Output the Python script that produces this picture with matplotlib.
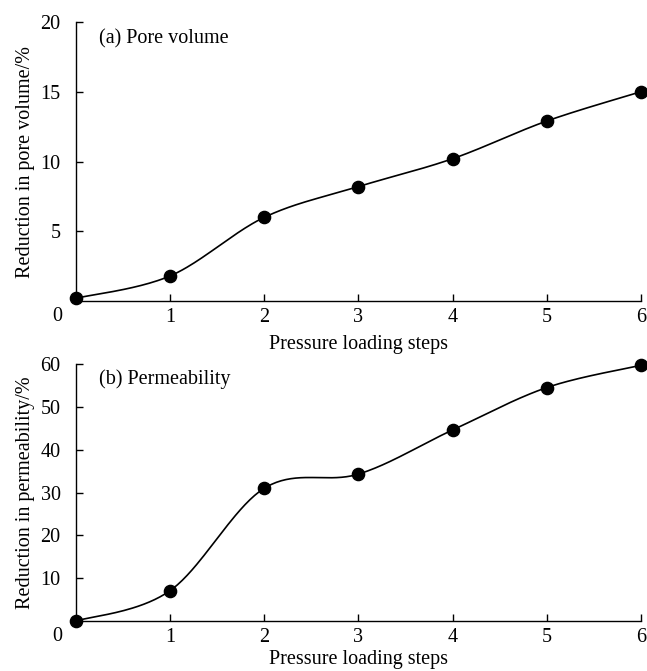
import numpy as np
import matplotlib
matplotlib.use("Agg")
import matplotlib.pyplot as plt

plt.rcParams['font.family'] = ['Liberation Serif', 'DejaVu Serif']
plt.rcParams['mathtext.fontset'] = 'stix'

steps = [0, 1, 2, 3, 4, 5, 6]
pore_volume = [0.2, 1.8, 6.0, 8.2, 10.2, 12.9, 15.0]
permeability = [0.0, 7.1, 31.0, 34.3, 44.6, 54.5, 59.7]

x_ticks = [1, 2, 3, 4, 5, 6]
pore_ticks = [5, 10, 15, 20]
perm_ticks = [10, 20, 30, 40, 50, 60]


def smooth_curve(x, y, n=40):
    """Catmull-Rom style Bezier smoothing through every point."""
    x = np.asarray(x, float)
    y = np.asarray(y, float)
    px = np.concatenate([[x[0]], x, [x[-1]]])
    py = np.concatenate([[y[0]], y, [y[-1]]])
    xs, ys = [], []
    t = np.linspace(0, 1, n)
    for i in range(1, len(px) - 2):
        p0 = np.array([px[i - 1], py[i - 1]])
        p1 = np.array([px[i], py[i]])
        p2 = np.array([px[i + 1], py[i + 1]])
        p3 = np.array([px[i + 2], py[i + 2]])
        c1 = p1 + (p2 - p0) / 6.0
        c2 = p2 - (p3 - p1) / 6.0
        b = ((1 - t) ** 3)[:, None] * p1 + (3 * (1 - t) ** 2 * t)[:, None] * c1 \
            + (3 * (1 - t) * t ** 2)[:, None] * c2 + (t ** 3)[:, None] * p2
        xs.append(b[:, 0])
        ys.append(b[:, 1])
    return np.concatenate(xs), np.concatenate(ys)


fig = plt.figure(figsize=(6.47, 6.71), dpi=100)
ax1 = fig.add_axes([0.1175, 0.5514, 0.873, 0.4158])
ax2 = fig.add_axes([0.1175, 0.0745, 0.873, 0.383])

panels = [
    (ax1, pore_volume, 20, pore_ticks, "Reduction in pore volume/%", "(a) Pore volume", 6),
    (ax2, permeability, 60, perm_ticks, "Reduction in permeability/%", "(b) Permeability", 2),
]

for ax, vals, ymax, yt, ylab, title, xpad in panels:
    sx, sy = smooth_curve(steps, vals)
    ax.plot(sx, sy, color='black', lw=1.2, clip_on=False)
    ax.plot(steps, vals, 'o', color='black', ms=8.8, clip_on=False, zorder=5)
    ax.set_xlim(0, 6)
    ax.set_ylim(0, ymax)
    ax.set_xticks(x_ticks)
    ax.set_yticks(yt)
    for s in ('top', 'right'):
        ax.spines[s].set_visible(False)
    for s in ('left', 'bottom'):
        ax.spines[s].set_linewidth(1.0)
    ax.tick_params(direction='in', length=5, width=1.0, labelsize=14.5)
    ax.tick_params(axis='x', pad=5)
    ax.tick_params(axis='y', pad=11)
    ax.set_xlabel("Pressure loading steps", fontsize=14.5, labelpad=xpad)
    ax.set_ylabel(ylab, fontsize=14.5, labelpad=4)
    ax.annotate("0", xy=(0, 0), xycoords='data', xytext=(-19, -15),
                textcoords='offset pixels', ha='center', va='center', fontsize=14.5)
    ax.text(0.04, 0.94, title, transform=ax.transAxes, fontsize=14.5,
            ha='left', va='center')

fig.savefig("out.png", dpi=100)
